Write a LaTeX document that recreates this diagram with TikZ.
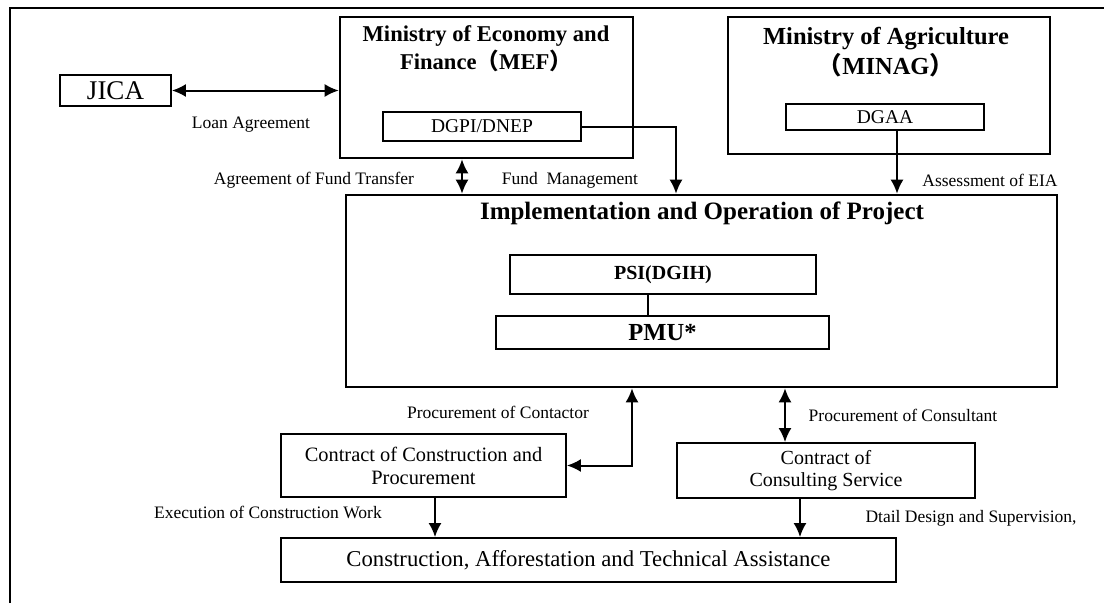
\documentclass[tikz,border=0pt]{standalone}
\usepackage{fontspec}
\setmainfont{Liberation Serif}
\newfontfamily\cjk{Noto Sans CJK SC}
\usetikzlibrary{arrows.meta}

\begin{document}
\begin{tikzpicture}[x=1pt,y=-1pt,>={Latex[length=14pt,width=13pt]},line width=2pt,
        box/.style={draw,line width=1.8pt,inner sep=0pt},
        bigbox/.style={draw,line width=2.6pt,inner sep=0pt},
        lbl/.style={font=\fontsize{17.5}{20}\selectfont}]

        \useasboundingbox (0,0) rectangle (1104,603);
        \draw[line width=2pt] (10,603) -- (10,8) -- (1104,8);

        \node [box,minimum width=111,minimum height=31,font=\fontsize{27}{30}\selectfont] at (115.5,90.5) (jica) {JICA};

        \node [bigbox,minimum width=293,minimum height=141] at (486.5,87.5) (mef) {};
        \node [align=center,font=\fontsize{22.6}{28}\selectfont\bfseries] at (486,49) (meftitle) {Ministry of Economy and\\Finance{\cjk （}MEF{\cjk ）}};
        \node [box,minimum width=198,minimum height=29,font=\fontsize{19.5}{22}\selectfont] at (482,126.5) (dgpi) {DGPI/DNEP};

        \node [bigbox,minimum width=322,minimum height=137] at (889,85.5) (minag) {};
        \node [align=center,font=\fontsize{24.5}{30}\selectfont\bfseries] at (886,52) (minagtitle) {Ministry of Agriculture\\{\cjk （}MINAG{\cjk ）}};
        \node [box,minimum width=198,minimum height=26,font=\fontsize{19.5}{22}\selectfont] at (885,117) (dgaa) {DGAA};

        \node [bigbox,minimum width=711,minimum height=192] at (701.5,291) (impl) {};
        \node [font=\fontsize{25}{28}\selectfont\bfseries] at (702,213) (impltitle) {Implementation and Operation of Project};
        \node [box,minimum width=306,minimum height=39,font=\fontsize{20}{22}\selectfont\bfseries] at (663,274.5) (psi) {PSI(DGIH)};
        \node [box,minimum width=333,minimum height=33,font=\fontsize{24.5}{26}\selectfont\bfseries] at (662.5,332.5) (pmu) {PMU*};

        \node [box,minimum width=285,minimum height=63,align=center,font=\fontsize{20.4}{23}\selectfont] at (423.5,465.5) (ccp) {Contract of Construction and\\Procurement};
        \node [box,minimum width=298,minimum height=55,align=center,font=\fontsize{20}{22}\selectfont] at (826,470.5) (ccs) {Contract of\\Consulting Service};
        \node [box,minimum width=615,minimum height=44,font=\fontsize{22.7}{25}\selectfont] at (588.5,560) (cat) {Construction, Afforestation and Technical Assistance};

        % connectors
        \draw[<->] (jica.east) -- (jica.east -| mef.west);
        \draw[<->] ([xshift=-24.5pt]mef.south) -- ([xshift=-24.5pt]mef.south |- impl.north);
        \draw[->] (dgpi.east) -| ([xshift=-25.5pt]impl.north);
        \draw[->] ([xshift=12pt]dgaa.south) -- ([xshift=12pt]dgaa.south |- impl.north);
        \draw ([xshift=-15pt]psi.south) -- ([xshift=-15pt]psi.south |- pmu.north);
        \draw[<->] ([xshift=-69.5pt]impl.south) |- (ccp.east);
        \draw[<->] ([xshift=-41pt]ccs.north) -- ([xshift=-41pt]ccs.north |- impl.south);
        \draw[->] ([xshift=11.5pt]ccp.south) -- ([xshift=11.5pt]ccp.south |- cat.north);
        \draw[->] ([xshift=-26pt]ccs.south) -- ([xshift=-26pt]ccs.south |- cat.north);

        % labels
        \node[lbl] at (251,125) (loan) {Loan Agreement};
        \node[lbl] at (314,180) (transfer) {Agreement of Fund Transfer};
        \node[lbl] at (570,180) (fundmgmt) {Fund\ \ Management};
        \node[lbl] at (990,180) (eia) {Assessment of EIA};
        \node[lbl] at (498,412) (contactor) {Procurement of Contactor};
        \node[lbl] at (903,415) (consultant) {Procurement of Consultant};
        \node[lbl] at (268,512) (execution) {Execution of Construction Work};
        \node[lbl] at (971,518) (dtail) {Dtail Design and Supervision,};

      \end{tikzpicture}
\end{document}
